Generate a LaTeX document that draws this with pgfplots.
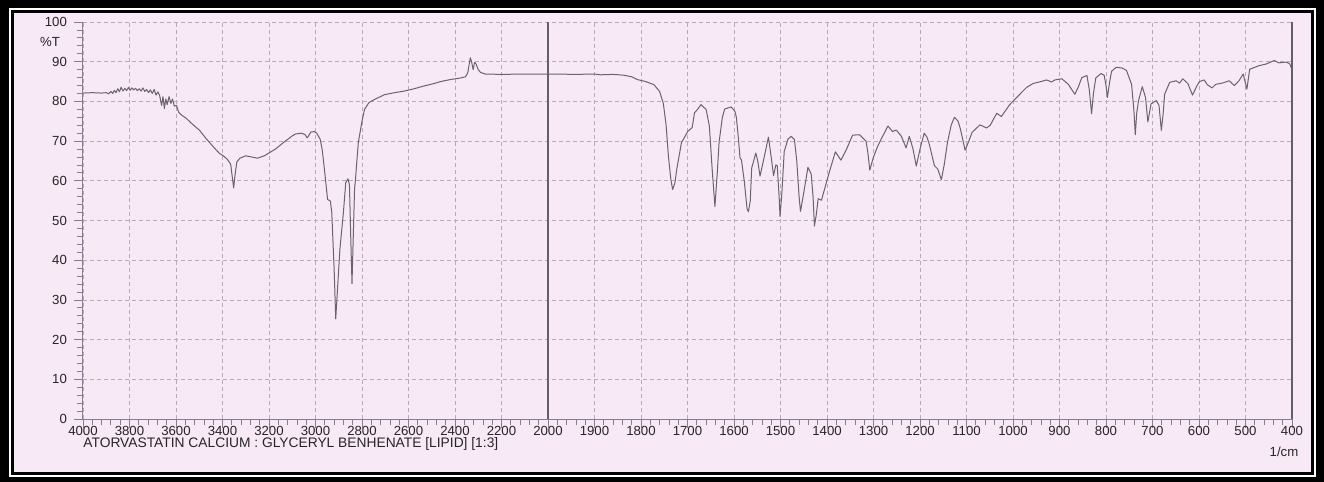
\documentclass[border=0pt]{standalone}
\usepackage{pgfplots}
\pgfplotsset{compat=1.18}
\usepackage{pgfplotstable}
\usepackage{fontspec}
\setmainfont{Liberation Sans}
\definecolor{paper}{RGB}{247,233,246}
\definecolor{gridc}{RGB}{185,170,188}
\definecolor{axisc}{RGB}{135,125,145}
\definecolor{specc}{RGB}{105,100,112}

\pgfplotstableread{
w T
4000 82.1
3960 82.2
3920 82.1
3900 82.2
3890 81.9
3880 82.5
3872 82.0
3865 82.8
3858 82.2
3850 83.2
3843 82.4
3836 83.6
3828 82.6
3820 83.3
3812 82.7
3805 83.5
3797 82.8
3790 83.4
3782 82.9
3774 83.3
3766 82.7
3758 83.2
3750 82.6
3742 83.4
3734 82.5
3726 83.0
3718 82.2
3710 82.9
3702 82.0
3694 83.0
3686 81.6
3678 82.4
3670 81.4
3662 79.0
3656 81.2
3650 78.2
3644 80.6
3638 79.2
3630 81.2
3622 79.5
3615 80.6
3607 78.8
3598 79.0
3588 77.2
3575 76.5
3557 75.8
3530 74.3
3500 72.8
3470 70.6
3440 68.6
3415 67.0
3395 66.2
3379 65.4
3365 64.2
3358 61.0
3352 58.2
3346 61.5
3338 64.8
3325 65.7
3300 66.3
3275 66.0
3250 65.7
3220 66.3
3172 68.0
3130 70.0
3100 71.3
3086 71.8
3060 72.0
3044 71.6
3036 70.8
3030 71.3
3020 72.3
3005 72.4
2995 72.0
2980 70.5
2971 67.8
2960 62.0
2948 55.3
2936 54.9
2930 52.0
2920 38.0
2913 25.2
2905 33.0
2895 42.8
2880 52.0
2870 59.5
2860 60.5
2854 59.0
2848 45.0
2843 34.1
2838 45.0
2832 58.0
2828 60.4
2816 69.6
2800 75.0
2789 78.0
2770 79.7
2746 80.5
2703 81.7
2660 82.2
2618 82.6
2575 83.2
2532 83.9
2490 84.5
2462 85.0
2420 85.5
2376 85.9
2355 86.2
2345 87.2
2340 89.0
2334 91.0
2328 89.8
2322 88.0
2316 89.8
2310 89.5
2300 88.0
2290 87.3
2270 86.9
2200 86.8
2100 86.9
2000 86.9
1988 86.9
1940 86.8
1900 86.9
1887 86.7
1860 86.8
1837 86.6
1820 86.2
1808 85.5
1790 85.0
1772 84.2
1760 82.5
1752 79.5
1746 74.0
1741 66.2
1736 60.5
1732 57.8
1727 59.5
1723 63.0
1713 69.6
1699 72.5
1690 73.4
1685 77.1
1677 78.2
1671 79.2
1665 78.5
1660 78.0
1653 73.8
1647 63.0
1641 53.5
1636 62.0
1632 69.8
1625 76.0
1620 78.1
1606 78.6
1598 77.5
1595 76.1
1590 70.0
1587 65.7
1584 65.3
1578 60.0
1572 53.0
1569 52.2
1565 55.0
1562 63.2
1553 67.0
1549 65.0
1544 61.2
1535 66.0
1526 71.0
1520 66.0
1515 61.3
1510 64.0
1507 63.8
1503 56.0
1501 51.0
1497 57.0
1492 67.4
1484 70.5
1477 71.2
1470 70.4
1465 65.0
1460 56.0
1457 52.3
1450 57.0
1441 63.4
1434 61.7
1430 56.0
1427 48.6
1423 51.5
1419 55.5
1412 55.1
1405 58.0
1394 62.6
1382 67.3
1370 65.2
1359 67.7
1345 71.5
1330 71.6
1316 70.0
1312 67.0
1308 62.7
1300 66.0
1290 69.0
1269 73.8
1259 72.4
1251 72.8
1240 71.2
1230 68.3
1223 71.2
1215 68.0
1208 63.7
1200 68.0
1191 72.0
1185 71.0
1180 69.2
1169 63.8
1162 63.0
1154 60.3
1148 64.0
1141 69.6
1133 74.0
1126 76.0
1118 75.0
1113 73.0
1103 67.7
1095 70.0
1088 72.2
1071 74.1
1057 73.3
1049 74.0
1035 77.0
1025 76.2
1007 79.2
993 80.9
971 83.5
957 84.5
940 85.0
928 85.4
917 84.9
910 85.4
895 85.7
881 84.3
867 81.8
860 83.5
852 86.0
841 86.5
836 83.0
831 76.9
827 82.0
822 85.9
811 87.0
804 86.6
800 84.0
797 81.0
792 85.0
788 87.6
778 88.6
765 88.4
756 87.8
745 84.3
740 77.7
737 71.6
734 77.0
730 80.2
722 83.7
715 81.0
710 74.8
706 77.5
703 79.4
692 80.2
686 79.0
681 72.7
677 77.0
674 81.8
663 84.8
649 85.2
642 84.6
635 85.7
624 84.5
614 81.6
605 83.8
599 85.0
589 85.4
582 84.2
572 83.4
564 84.3
550 84.6
535 85.2
524 84.0
514 85.2
505 86.9
497 83.1
491 88.1
471 89.0
456 89.4
438 90.3
428 89.7
413 89.9
405 89.5
400 88.0
}\spec

\begin{document}
\begin{tikzpicture}[x=0.5pt,y=-0.5pt]
\fill[black] (0,0) rectangle (1324,482);
\fill[white] (9,8) rectangle (1316,477);
\fill[black] (11,10) rectangle (1314,475);
\fill[paper] (14,13) rectangle (1311,472);
\coordinate (O) at (83,419);
\begin{axis}[at={(O)}, anchor=south west, scale only axis,
  width=604.5pt, height=198.5pt,
  xmin=0, xmax=2600, ymin=0, ymax=100,
  axis lines=left, axis line style={-, axisc, line width=0.5pt},
  xtick={0,100,...,2600},
  xticklabels={4000,3800,3600,3400,3200,3000,2800,2600,2400,2200,2000,1900,1800,1700,1600,1500,1400,1300,1200,1100,1000,900,800,700,600,500,400},
  minor x tick num=4,
  ytick={0,10,...,100}, minor y tick num=4,
  tick align=outside, major tick length=4.5pt, minor tick length=3pt,
  tick style={axisc, line width=0.4pt},
  grid=major,
  major grid style={gridc, dash pattern=on 2pt off 1.5pt, line width=0.35pt},
  tick label style={font=\fontsize{6.6}{7}\selectfont, text=black!85},
  xticklabel style={yshift=4.5pt},
  /pgf/number format/assume math mode=true,
  clip=false,
]
\addplot[specc, line width=0.5pt, line join=round, mark=none]
  table[x expr={\thisrow{w}>=2000 ? (4000-\thisrow{w})/2 : 3000-\thisrow{w}}, y=T] {\spec};
\draw[axisc!75!black, line width=0.6pt] (axis cs:1000,0) -- (axis cs:1000,100);
\draw[axisc!75!black, line width=0.6pt] (axis cs:2600,0) -- (axis cs:2600,100);
\node[anchor=east, xshift=-8pt, font=\fontsize{6.6}{7}\selectfont, text=black!85] at (axis cs:0,95) {\%T};
\end{axis}
\node[anchor=west, inner sep=0pt, font=\fontsize{6.9}{7}\selectfont, text=black!85] at (83,444) {ATORVASTATIN CALCIUM : GLYCERYL BENHENATE [LIPID] [1:3]};
\node[font=\fontsize{6.6}{7}\selectfont, text=black!85] at (1284,452) {1/cm};
\end{tikzpicture}
\end{document}
